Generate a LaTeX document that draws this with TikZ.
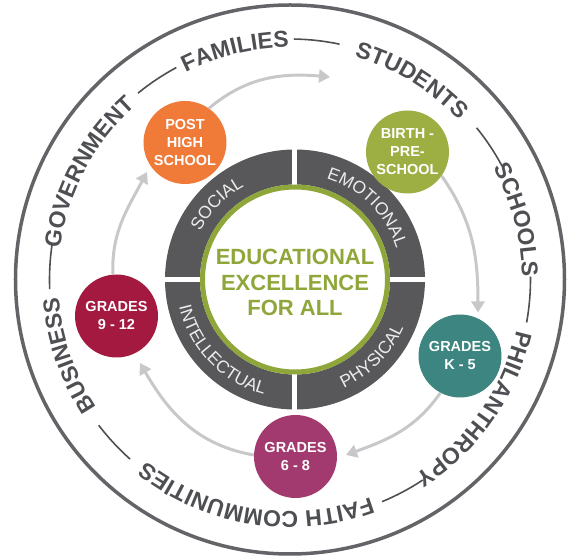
\documentclass[tikz,border=0pt]{standalone}
\usepackage{fontspec}
\setmainfont{Liberation Sans}
\usetikzlibrary{arrows.meta,decorations.text}

\definecolor{ringgray}{RGB}{88,88,90}
\definecolor{wordgray}{RGB}{78,79,83}
\definecolor{linegray}{RGB}{100,100,104}
\definecolor{flowgray}{RGB}{200,200,202}
\definecolor{ringtext}{RGB}{236,236,236}
\definecolor{edugreen}{RGB}{143,166,58}
\definecolor{postc}{RGB}{240,122,56}
\definecolor{birthc}{RGB}{157,175,66}
\definecolor{kfivec}{RGB}{60,133,128}
\definecolor{midc}{RGB}{162,58,111}
\definecolor{highc}{RGB}{163,25,63}

\tikzset{stage/.style={circle,minimum size=83pt,inner sep=0pt,text=white,align=center,
  font=\bfseries\fontsize{14.5}{18}\selectfont}}
\tikzset{flow/.style={flowgray,line width=3pt,-{Triangle[length=11pt,width=13pt]}}}
\tikzset{dashline/.style={wordgray,line width=1.6pt}}

\newcommand{\outerfont}{\bfseries\fontsize{23}{23}\selectfont\color{wordgray}}
\newcommand{\ringfont}{\fontsize{17.5}{17.5}\selectfont\color{ringtext}}
% words round the outer circle, clockwise
\newcommand{\outerword}[2]{\path[decorate,decoration={text along path,text align=center,
  text={|\outerfont|#2}}] ({#1+40}:232) arc[start angle=#1+40,end angle=#1-40,radius=232];}
% words in the dark ring
\newcommand{\ringtop}[2]{\path[decorate,decoration={text along path,text align=center,
  text={|\ringfont|#2}}] ({#1+45}:106) arc[start angle=#1+45,end angle=#1-45,radius=106];}
\newcommand{\ringbot}[2]{\path[decorate,decoration={text along path,text align=center,
  text={|\ringfont|#2}}] ({#1-45}:119) arc[start angle=#1-45,end angle=#1+45,radius=119];}

\begin{document}
\begin{tikzpicture}[x=1pt,y=1pt]
  \useasboundingbox (-290,-279.5) rectangle (278,279.5);

  \draw[linegray, line width=3.5pt] (0,0) circle (274.5);

  \outerword{103.5}{FAMILIES}
  \outerword{58.6}{STUDENTS}
  \outerword{14.8}{SCHOOLS}
  \outerword{-35}{PHILANTHROPY}
  \outerword{-99}{FAITH COMMUNITIES}
  \outerword{199}{BUSINESS}
  \outerword{152}{GOVERNMENT}
  \foreach \a in {123.7,83.6,33.6,-4.8,-62,-137.2,176.8}
    \draw[dashline] ({\a+5.5}:240.5) arc[start angle=\a+5.5,end angle=\a-5.5,radius=240.5];

  % the four quarters
  \begin{scope}[shift={(5,0)}]
    \fill[ringgray, even odd rule] (0,0) circle (130) (0,0) circle (95);
    \draw[white, line width=5pt] (0,-132) -- (0,132);
    \draw[white, line width=5pt] (-132,0) -- (132,0);
    \draw[edugreen, fill=white, line width=5pt] (0,0) circle (92.5);
    \ringtop{136}{SOCIAL}
    \ringtop{45}{EMOTIONAL}
    \ringbot{224}{INTELLECTUAL}
    \ringbot{315}{PHYSICAL}
  \end{scope}
  \node[text=edugreen, font=\bfseries\fontsize{22}{25.5}\selectfont, align=center] (core) at (5,-3)
    {EDUCATIONAL\\EXCELLENCE\\FOR ALL};

  \node[stage, fill=postc] (post) at (-105,137) {POST\\HIGH\\SCHOOL};
  \node[stage, fill=birthc] (birth) at (117.5,127.5) {BIRTH -\\PRE-\\SCHOOL};
  \node[stage, fill=kfivec] (kfive) at (170,-76.5) {GRADES\\K - 5};
  \node[stage, fill=midc] (mid) at (5.5,-177) {GRADES\\6 - 8};
  \node[stage, fill=highc] (high) at (-173.5,-36.5) {GRADES\\9 - 12};

  \coordinate (a1) at (40,202.5);
  \coordinate (a2) at (188,-33);
  \coordinate (a3) at (56,-175.5);
  \coordinate (a4) at (-150,-83.5);
  \coordinate (a5) at (-143,107.5);
  \draw[flow] (post.55) to[out=40,in=175] (a1);
  \draw[flow] (birth.-35) to[out=-55,in=90] (a2);
  \draw[flow] (kfive.-118) to[out=-125,in=20] (a3);
  \draw[flow] (mid.178) to[out=170,in=-60] (a4);
  \draw[flow] (high.95) to[out=92,in=-118] (a5);
\end{tikzpicture}
\end{document}
